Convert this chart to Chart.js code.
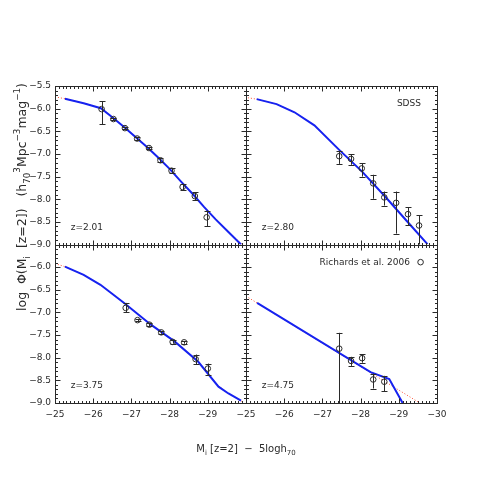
<!DOCTYPE html>
<html>
<head>
<meta charset="utf-8">
<script src="https://cdn.jsdelivr.net/npm/chart.js@4"></script>
<style>
  html, body { margin: 0; padding: 0; background: #fff; }
  canvas { display: block; }
</style>
</head>
<body>
<canvas id="qlf" width="491" height="491"></canvas>
<script>
// tick labels
const xMajor = [-25, -26, -27, -28, -29, -30];
const yMajor = [-5.5, -6.0, -6.5, -7.0, -7.5, -8.0, -8.5, -9.0];
const redshifts = ["z=2.01", "z=2.80", "z=3.75", "z=4.75"];

// z=2.01 : Richards et al. 2006 points
const magA = [-26.22, -26.53, -26.83, -27.15, -27.46, -27.76, -28.05, -28.34, -28.66, -28.97];
const phiA = [-6.01, -6.23, -6.43, -6.66, -6.87, -7.14, -7.37, -7.73, -7.93, -8.40];
const upA = [0.17, 0.03, 0.03, 0.03, 0.03, 0.04, 0.05, 0.06, 0.08, 0.15];
const dnA = [0.33, 0.03, 0.03, 0.03, 0.03, 0.04, 0.05, 0.07, 0.09, 0.20];
const modelMagA = [-25.26, -25.75, -26.2, -26.5, -26.8, -27.1, -27.4, -27.7, -28.0, -28.3, -28.6, -28.9, -29.2, -29.5, -29.87];
const modelPhiA = [-5.78, -5.88, -5.99, -6.19, -6.40, -6.62, -6.84, -7.08, -7.33, -7.61, -7.88, -8.17, -8.44, -8.69, -9.0];
const dotMagA = [-25.0, -25.26, -25.75, -26.2, -26.5, -26.8, -27.1, -27.4, -27.7, -28.0, -28.3, -28.6, -28.9, -29.2, -29.5, -29.9];
const dotPhiA = [-5.74, -5.78, -5.88, -5.99, -6.19, -6.40, -6.62, -6.84, -7.08, -7.33, -7.61, -7.88, -8.17, -8.44, -8.69, -9.0];

// z=2.80
const magB = [-27.44, -27.75, -28.03, -28.33, -28.62, -28.93, -29.24, -29.53];
const phiB = [-7.05, -7.11, -7.32, -7.65, -7.96, -8.08, -8.33, -8.58];
const upB = [0.12, 0.10, 0.12, 0.19, 0.13, 0.25, 0.15, 0.23];
const dnB = [0.17, 0.13, 0.18, 0.34, 0.18, 0.68, 0.24, 0.43];
const modelMagB = [-25.28, -25.80, -26.27, -26.79, -27.44, -28.04, -28.64, -29.25, -29.75];
const modelPhiB = [-5.79, -5.90, -6.08, -6.37, -6.91, -7.39, -7.94, -8.52, -8.99];
const dotMagB = [-25.05, -25.28, -25.80, -26.27, -26.79, -27.44, -28.04, -28.64, -29.25, -29.75];
const dotPhiB = [-5.76, -5.79, -5.90, -6.08, -6.37, -6.91, -7.39, -7.94, -8.52, -8.99];

// z=3.75
const magC = [-26.85, -27.16, -27.47, -27.78, -28.08, -28.38, -28.68, -29.00];
const phiC = [-6.90, -7.17, -7.27, -7.44, -7.65, -7.66, -8.03, -8.24];
const upC = [0.11, 0.03, 0.03, 0.03, 0.04, 0.03, 0.10, 0.11];
const dnC = [0.10, 0.03, 0.03, 0.03, 0.04, 0.03, 0.11, 0.14];
const modelMagC = [-25.26, -25.75, -26.19, -26.81, -27.51, -28.13, -28.75, -29.28, -29.54, -29.87];
const modelPhiC = [-5.99, -6.17, -6.39, -6.79, -7.27, -7.64, -8.09, -8.64, -8.79, -8.95];
const dotMagC = [-25.0, -25.26, -25.75, -26.19, -26.81, -27.51, -28.13, -28.75, -29.25, -29.54, -29.9];
const dotPhiC = [-5.92, -5.99, -6.17, -6.39, -6.79, -7.27, -7.64, -8.09, -8.60, -8.79, -8.97];

// z=4.75
const magD = [-27.44, -27.75, -28.04, -28.33, -28.62];
const phiD = [-7.80, -8.07, -8.01, -8.48, -8.53];
const upD = [0.35, 0.09, 0.09, 0.13, 0.13];
const dnD = [1.30, 0.11, 0.10, 0.20, 0.21];
const modelMagD = [-25.29, -28.26, -28.75, -29.10];
const modelPhiD = [-6.79, -8.32, -8.47, -9.0];
const dotMagD = [-25.0, -29.55];
const dotPhiD = [-6.64, -9.0];

const BLUE = "rgb(22, 34, 240)";
const RED = "rgb(255, 80, 50)";
const INK = "#2a2a2a";
const FONT = "'DejaVu Sans', sans-serif";

const panels = [
    { x: "xL", y: "yT", label: redshifts[0], mag: magA, phi: phiA, up: upA, dn: dnA, mMag: modelMagA, mPhi: modelPhiA, dMag: dotMagA, dPhi: dotPhiA },
    { x: "xR", y: "yT", label: redshifts[1], mag: magB, phi: phiB, up: upB, dn: dnB, mMag: modelMagB, mPhi: modelPhiB, dMag: dotMagB, dPhi: dotPhiB },
    { x: "xL", y: "yB", label: redshifts[2], mag: magC, phi: phiC, up: upC, dn: dnC, mMag: modelMagC, mPhi: modelPhiC, dMag: dotMagC, dPhi: dotPhiC },
    { x: "xR", y: "yB", label: redshifts[3], mag: magD, phi: phiD, up: upD, dn: dnD, mMag: modelMagD, mPhi: modelPhiD, dMag: dotMagD, dPhi: dotPhiD },
];

const pts = (xs, ys) => xs.map((x, i) => ({ x: x, y: ys[i] }));

const datasets = [];
panels.forEach((p) => {
    datasets.push({
        data: pts(p.dMag, p.dPhi), xAxisID: p.x, yAxisID: p.y,
        showLine: true, borderColor: RED, borderWidth: 1, borderDash: [1, 2],
        pointRadius: 0, order: 3,
    });
    datasets.push({
        data: pts(p.mMag, p.mPhi), xAxisID: p.x, yAxisID: p.y,
        showLine: true, borderColor: BLUE, borderWidth: 2,
        pointRadius: 0, order: 2,
    });
    datasets.push({
        data: pts(p.mag, p.phi), xAxisID: p.x, yAxisID: p.y,
        showLine: false, pointStyle: "circle", pointRadius: 2.8,
        pointBackgroundColor: "rgba(0,0,0,0)", pointBorderColor: INK, pointBorderWidth: 1,
        order: 1,
    });
});

const fmtX = (v) => "\u2212" + Math.abs(v).toFixed(0);
const fmtY = (v) => "\u2212" + Math.abs(v).toFixed(1);

function xAxis(hide) {
    return {
        type: "linear", position: "bottom", stack: "cols", stackWeight: 1,
        min: -30, max: -25, reverse: true,
        afterBuildTicks: (s) => { s.ticks = xMajor.map((v) => ({ value: v })); },
        afterFit: (s) => { s.height = 88; },
        grid: { display: false, drawTicks: false }, border: { display: false },
        ticks: {
            padding: 6, color: INK, font: { family: FONT, size: 9 }, maxRotation: 0, autoSkip: false,
            callback: (v) => (v === hide ? "" : fmtX(v)),
        },
    };
}
function yAxis(hide) {
    return {
        type: "linear", position: "left", stack: "rows", stackWeight: 1,
        min: -9.0, max: -5.5,
        afterBuildTicks: (s) => { s.ticks = yMajor.map((v) => ({ value: v })); },
        afterFit: (s) => { s.width = 55; },
        grid: { display: false, drawTicks: false }, border: { display: false },
        ticks: {
            padding: 4, color: INK, font: { family: FONT, size: 9 }, autoSkip: false,
            callback: (v) => (v === hide ? "" : fmtY(v)),
        },
    };
}

// draws text with sub/superscript parts, centred on x
function richText(ctx, parts, x, y, size) {
    const fontOf = (m) => (m === 0 ? size : size * 0.7) + "px " + FONT;
    let total = 0;
    parts.forEach(([t, m]) => { ctx.font = fontOf(m); total += ctx.measureText(t).width; });
    let cx = x - total / 2;
    ctx.textAlign = "left";
    ctx.textBaseline = "alphabetic";
    parts.forEach(([t, m]) => {
        ctx.font = fontOf(m);
        const dy = m < 0 ? size * 0.3 : m > 0 ? -size * 0.45 : 0;
        ctx.fillText(t, cx, y + dy);
        cx += ctx.measureText(t).width;
    });
}

const framePlugin = {
    id: "frame",
    afterDatasetsDraw(chart) {
        const ctx = chart.ctx;
        ctx.save();
        ctx.strokeStyle = INK;
        ctx.lineWidth = 1;
        panels.forEach((p) => {
            const xs = chart.scales[p.x], ys = chart.scales[p.y];
            p.mag.forEach((m, i) => {
                const px = Math.round(xs.getPixelForValue(m)) + 0.5;
                const top = ys.getPixelForValue(Math.min(p.phi[i] + p.up[i], -5.5));
                const bot = ys.getPixelForValue(Math.max(p.phi[i] - p.dn[i], -9.0));
                ctx.beginPath();
                ctx.moveTo(px, top); ctx.lineTo(px, bot);
                ctx.moveTo(px - 3, Math.round(top) + 0.5); ctx.lineTo(px + 3, Math.round(top) + 0.5);
                if (p.phi[i] - p.dn[i] > -9.0) {
                    ctx.moveTo(px - 3, Math.round(bot) + 0.5); ctx.lineTo(px + 3, Math.round(bot) + 0.5);
                }
                ctx.stroke();
            });
        });
        ctx.restore();
    },
    afterDraw(chart) {
        const ctx = chart.ctx;
        ctx.save();
        ctx.strokeStyle = INK;
        ctx.fillStyle = INK;
        ctx.lineWidth = 1;
        panels.forEach((p) => {
            const xs = chart.scales[p.x], ys = chart.scales[p.y];
            const L = Math.round(xs.left) + 0.5, R = Math.round(xs.right) + 0.5;
            const T = Math.round(ys.top) + 0.5, B = Math.round(ys.bottom) + 0.5;
            ctx.strokeRect(L, T, R - L, B - T);
            ctx.beginPath();
            for (let k = 0; k <= 50; k++) {
                const px = Math.round(xs.getPixelForValue(-25 - k / 10)) + 0.5;
                const len = k % 10 === 0 ? 5 : 2.5;
                ctx.moveTo(px, B); ctx.lineTo(px, B - len);
                ctx.moveTo(px, T); ctx.lineTo(px, T + len);
            }
            for (let k = 0; k <= 35; k++) {
                const py = Math.round(ys.getPixelForValue(-5.5 - k / 10)) + 0.5;
                const len = k % 5 === 0 ? 5 : 2.5;
                ctx.moveTo(L, py); ctx.lineTo(L + len, py);
                ctx.moveTo(R, py); ctx.lineTo(R - len, py);
            }
            ctx.stroke();

            ctx.font = "9px " + FONT;
            ctx.textAlign = "left";
            ctx.textBaseline = "middle";
            ctx.fillText(p.label, xs.getPixelForValue(-25.41), ys.getPixelForValue(-8.62));
        });

        // top-right: SDSS ; bottom-right: legend
        const xR = chart.scales.xR, yT = chart.scales.yT, yB = chart.scales.yB;
        ctx.font = "9px " + FONT;
        ctx.textAlign = "right";
        ctx.textBaseline = "middle";
        ctx.fillText("SDSS", xR.getPixelForValue(-29.58), yT.getPixelForValue(-5.88));
        ctx.fillText("Richards et al. 2006", xR.getPixelForValue(-29.29), yB.getPixelForValue(-5.89));
        ctx.beginPath();
        ctx.arc(xR.getPixelForValue(-29.57), yB.getPixelForValue(-5.89), 2.8, 0, Math.PI * 2);
        ctx.stroke();

        // axis titles
        const area = chart.chartArea;
        richText(ctx, [["M", 0], ["i", -1], [" [z=2]  \u2212  5logh", 0], ["70", -1]],
            (area.left + area.right) / 2, 452, 10);
        ctx.save();
        ctx.translate(26, 197);
        ctx.rotate(-Math.PI / 2);
        richText(ctx, [["log  \u03a6(M", 0], ["i", -1], ["  [z=2])   (h", 0], ["70", -1], ["3", 1],
            ["Mpc", 0], ["\u22123", 1], ["mag", 0], ["\u22121", 1], [")", 0]], 0, 0, 12.5);
        ctx.restore();
        ctx.restore();
    },
};

new Chart(document.getElementById("qlf"), {
    type: "scatter",
    data: { datasets: datasets },
    options: {
        responsive: false,
        animation: false,
        layout: { padding: { left: 0, right: 54, top: 86, bottom: 0 } },
        scales: {
            // vertical stack is laid out bottom-first
            yB: yAxis(-5.5),
            yT: yAxis(null),
            xL: xAxis(-30),
            xR: xAxis(null),
        },
        plugins: {
            legend: { display: false },
            tooltip: { enabled: false },
        },
    },
    plugins: [framePlugin],
});
</script>
</body>
</html>
